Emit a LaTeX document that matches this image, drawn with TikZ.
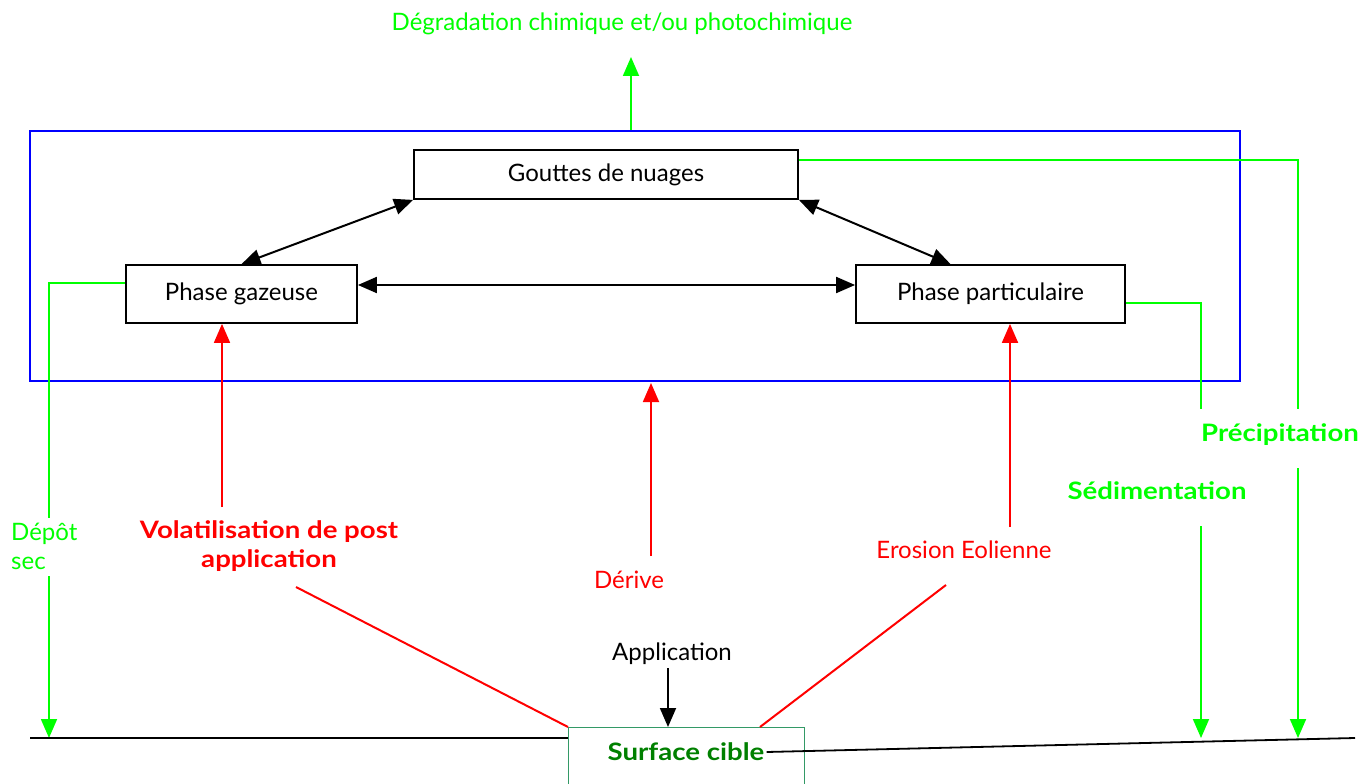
\documentclass[tikz,border=0pt]{standalone}
\usepackage{fontspec}
\setmainfont{Lato}[BoldFeatures={FakeStretch=1.15}]
\usetikzlibrary{arrows.meta}
\definecolor{lime}{RGB}{0,255,0}
\definecolor{pred}{RGB}{255,0,0}
\definecolor{pblue}{RGB}{0,0,255}
\definecolor{dgreen}{RGB}{0,128,0}
\definecolor{sgreen}{RGB}{51,153,102}
\begin{document}
\begin{tikzpicture}[x=1pt,y=-1pt,
  box/.style={draw=black, line width=1.8pt, inner sep=0pt, font=\fontsize{24}{28}\selectfont},
  tip/.style={-{Triangle[length=19pt,width=16pt]}},
  biarrow/.style={line width=2pt, {Triangle[length=19pt,width=16pt]}-{Triangle[length=19pt,width=16pt]}},
  gline/.style={draw=lime, line width=1.8pt},
  garrow/.style={draw=lime, fill=lime, line width=1.8pt, tip},
  rarrow/.style={draw=pred, line width=1.8pt, -{Triangle[length=19pt,width=16pt,fill=pred]}},
  rline/.style={draw=pred, line width=2pt},
  barrow/.style={draw=black, line width=1.8pt, tip},
  gtext/.style={text=lime, font=\fontsize{24}{28}\selectfont, inner sep=0pt},
  gbold/.style={text=lime, font=\fontsize{24}{28}\selectfont\bfseries, inner sep=0pt},
  rtext/.style={text=pred, font=\fontsize{24}{28}\selectfont, inner sep=0pt},
  rbold/.style={text=pred, font=\fontsize{24}{29}\selectfont\bfseries, inner sep=0pt, align=center},
  ktext/.style={text=black, font=\fontsize{24}{28}\selectfont, inner sep=0pt}
]
\useasboundingbox (0,0) rectangle (1363,784);
\clip (0,0) rectangle (1363,784);

% zone
\node[draw=pblue, line width=1.8pt, minimum width=1210pt, minimum height=250pt, inner sep=0pt] (zone) at (635,256) {};

% boxes
\node[box, minimum width=384pt, minimum height=49pt] (gn) at (606,174.5) {\raisebox{-2pt}{Gouttes de nuages}};
\node[box, minimum width=231pt, minimum height=58pt] (pg) at (241.5,294) {Phase gazeuse};
\node[box, minimum width=269pt, minimum height=58pt] (pp) at (990.5,294) {Phase particulaire};

% exchanges
\draw[biarrow] (gn.south west) -- (pg.north);
\draw[biarrow] (gn.south east) -- ([xshift=-40pt]pp.north);
\draw[biarrow] ([yshift=9pt]pg.east) -- ([yshift=9pt]pp.west);

% degradation
\node[gtext] (deg) at (622,24) {Dégradation chimique et/ou photochimique};
\coordinate (degtip) at (631,57);
\draw[garrow] (zone.north -| degtip) -- (degtip);

% precipitation
\node[gbold] (prec) at (1280,435) {Précipitation};
\coordinate (prec1) at (1298,409);
\coordinate (prec2) at (1298,468);
\coordinate (prec3) at (1298,738);
\draw[gline] ([yshift=14.5pt]gn.east) -| (prec1);
\draw[garrow] (prec2) -- (prec3);

% sedimentation
\node[gbold] (sed) at (1157,491) {Sédimentation};
\coordinate (sed1) at (1201,409);
\coordinate (sed2) at (1201,526);
\coordinate (sed3) at (1201,738);
\draw[gline] ([yshift=-9pt]pp.east) -| (sed1);
\draw[garrow] (sed2) -- (sed3);

% depot sec
\node[text=lime, font=\fontsize{24}{29}\selectfont, inner sep=0pt, align=left, anchor=north west] (dep) at (11,523) {Dépôt\\sec};
\coordinate (dep1) at (49,518);
\coordinate (dep2) at (49,576);
\coordinate (dep3) at (49,738);
\draw[gline] ([yshift=11pt]pg.west) -| (dep1);
\draw[garrow] (dep2) -- (dep3);

% red sources
\node[rbold] (vol) at (269,546) {Volatilisation de post\\application};
\coordinate (vol1) at (222,507);
\draw[rarrow] (vol1) -- (pg.south -| vol1);

\node[rtext] (der) at (629,580) {Dérive};
\coordinate (der1) at (651,556);
\coordinate (der2) at (651,383);
\draw[rarrow] (der1) -- (der2);

\node[rtext] (ero) at (964,550) {Erosion Eolienne};
\coordinate (ero1) at (1010,527);
\draw[rarrow] (ero1) -- (pp.south -| ero1);

% surface
\node[draw=sgreen, line width=1.4pt, minimum width=236pt, minimum height=80pt, inner sep=0pt, anchor=north west] (sc) at (568,727) {};
\node[text=dgreen, font=\fontsize{24}{28}\selectfont\bfseries, inner sep=0pt] (sct) at (686,752) {Surface cible};

\coordinate (volend) at (296,587);
\coordinate (eroend) at (946,585);
\draw[rline] (volend) -- (sc.north west);
\draw[rline] (eroend) -- ([xshift=192pt]sc.north west);

\node[ktext] (app) at (672,654) {Application};
\coordinate (app1) at (668,668);
\draw[barrow] (app1) -- (sc.north -| app1);

% ground
\coordinate (gl) at (30,738);
\coordinate (gr) at (1355,738);
\draw[line width=1.8pt] (gl) -- (sc.north west |- gl);
\draw[line width=1.8pt] ([xshift=2pt]sct.east) -- (gr);
\end{tikzpicture}
\end{document}
